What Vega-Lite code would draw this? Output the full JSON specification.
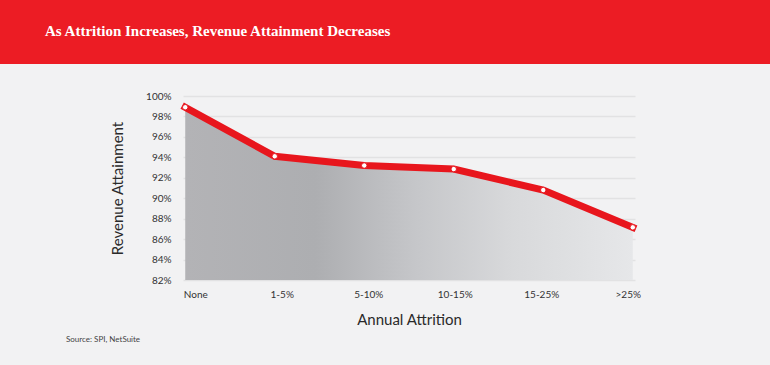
{
  "$schema": "https://vega.github.io/schema/vega-lite/v6.json",
  "background": "#f2f2f3",
  "padding": {"left": 0, "right": 0, "top": 0, "bottom": 23},
  "spacing": 27,
  "title": {
    "text": "Source: SPI, NetSuite",
    "orient": "bottom",
    "anchor": "start",
    "frame": "bounds",
    "dx": 66,
    "offset": 9,
    "font": "Lato",
    "fontSize": 8,
    "fontWeight": "normal",
    "color": "#444444"
  },
  "config": {
    "view": {"stroke": null},
    "font": "Lato"
  },
  "vconcat": [
    {
      "width": 770,
      "height": 64,
      "view": {"fill": "#ec1c24", "stroke": null},
      "title": {
        "text": "As Attrition Increases, Revenue Attainment Decreases",
        "anchor": "start",
        "frame": "group",
        "dx": 45,
        "dy": 14,
        "offset": -37,
        "baseline": "alphabetic",
        "font": "Liberation Serif",
        "fontSize": 15,
        "fontWeight": "bold",
        "color": "#ffffff"
      },
      "data": {"values": []},
      "mark": "point",
      "encoding": {}
    },
    {
      "spacing": 0,
      "hconcat": [
        {
          "width": 110,
          "height": 1,
          "data": {"values": []},
          "mark": "point",
          "encoding": {}
        },
        {
          "width": 452,
          "height": 184,
          "data": {
            "values": [
              {"attrition": "None", "revenue": 98.9},
              {"attrition": "1-5%", "revenue": 94.1},
              {"attrition": "5-10%", "revenue": 93.2},
              {"attrition": "10-15%", "revenue": 92.85},
              {"attrition": "15-25%", "revenue": 90.8},
              {"attrition": ">25%", "revenue": 87.15}
            ]
          },
          "encoding": {
            "x": {
              "field": "attrition",
              "type": "ordinal",
              "sort": null,
              "scale": {"type": "point", "padding": 0.025},
              "axis": {
                "title": "Annual Attrition",
                "labelAngle": 0,
                "ticks": false,
                "domain": false,
                "grid": false,
                "labelPadding": 9,
                "titlePadding": 13,
                "labelFontSize": 10,
                "labelColor": "#333333",
                "labelOffset": {"expr": "10 - 15*datum.index"},
                "titleFontSize": 15,
                "titleFontWeight": "normal",
                "titleColor": "#2a2a2a"
              }
            },
            "y": {
              "field": "revenue",
              "type": "quantitative",
              "scale": {"domain": [82, 100], "zero": false, "nice": false},
              "axis": {
                "title": "Revenue Attainment",
                "values": [82, 84, 86, 88, 90, 92, 94, 96, 98, 100],
                "labelExpr": "datum.value + '%'",
                "ticks": false,
                "domain": false,
                "labelPadding": 12,
                "titlePadding": 20,
                "labelFontSize": 10,
                "labelColor": "#333333",
                "titleFontSize": 15,
                "titleFontWeight": "normal",
                "titleColor": "#2a2a2a",
                "gridColor": "#e2e2e3",
                "gridWidth": 1.5
              }
            }
          },
          "layer": [
            {
              "mark": {
                "type": "area",
                "color": {
                  "gradient": "linear",
                  "x1": 0, "y1": 0, "x2": 1, "y2": 0,
                  "stops": [
                    {"offset": 0, "color": "#b3b3b6"},
                    {"offset": 0.29, "color": "#adaeb1"},
                    {"offset": 0.51, "color": "#c5c6c9"},
                    {"offset": 0.73, "color": "#d8d9db"},
                    {"offset": 1, "color": "#e6e7e9"}
                  ]
                }
              },
              "encoding": {"y2": {"datum": 82}}
            },
            {
              "mark": {"type": "line", "color": "#e8161d", "strokeWidth": 7, "strokeCap": "square", "strokeJoin": "miter"},
              "encoding": {}
            },
            {
              "mark": {"type": "point", "filled": true, "fill": "#ffffff", "stroke": "#e8161d", "strokeWidth": 1, "size": 30, "opacity": 1},
              "encoding": {}
            }
          ]
        }
      ]
    }
  ]
}
